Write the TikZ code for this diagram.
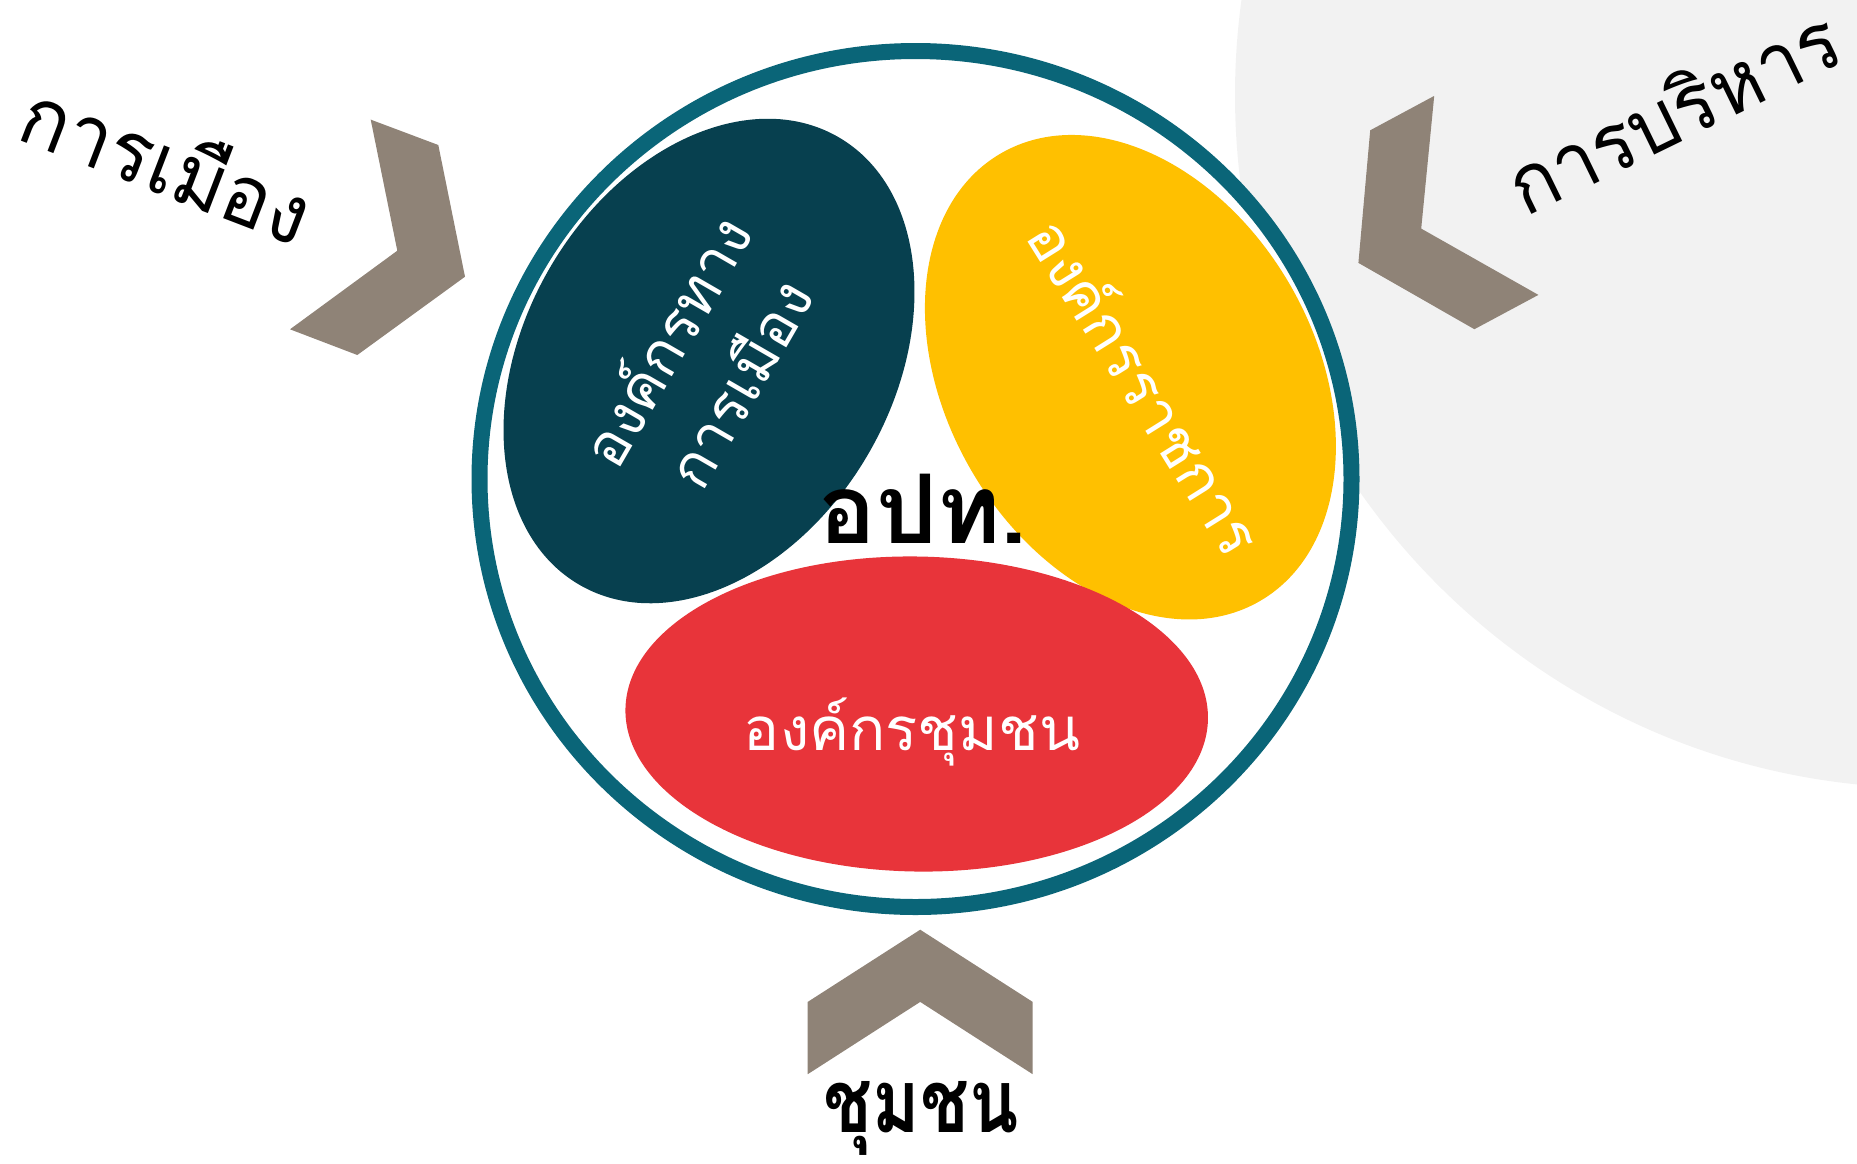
\documentclass[tikz,border=0pt]{standalone}
\usepackage{fontspec}
\newfontfamily\thai[Script=Thai]{Loma}
\newfontfamily\thaiA[Script=Thai,FakeStretch=0.95]{Loma}
\newfontfamily\thaiB[Script=Thai,FakeStretch=0.82]{Loma}
\definecolor{ringteal}{HTML}{0A6578}
\definecolor{darkteal}{HTML}{07404F}
\definecolor{goldy}{HTML}{FFC000}
\definecolor{redc}{HTML}{E8343A}
\definecolor{taupe}{HTML}{8F8377}
\definecolor{bggrey}{HTML}{F2F2F2}
\tikzset{
  chev/.style={fill=taupe},
  outerlbl/.style={font=\thaiA\fontsize{84}{100}\selectfont, text=black, inner sep=0pt},
  boldlbl/.style={font=\thaiB\bfseries\fontsize{88}{110}\selectfont, text=black, inner sep=0pt},
  centerlbl/.style={font=\thai\bfseries\fontsize{96}{110}\selectfont, text=black, inner sep=0pt},
  innerlbl/.style={font=\thai\fontsize{60}{84}\selectfont, text=white, inner sep=0pt, align=center},
}
\begin{document}
\begin{tikzpicture}[x=1pt,y=-1pt]
\useasboundingbox (0,0) rectangle (1857,1163);
% background grey disc
\fill[bggrey] (1928,95) circle [radius=693];
% main ring
\fill[white] (915.5,479) ellipse [x radius=436, y radius=428];
\draw[ringteal, line width=16pt] (915.5,479) ellipse [x radius=436, y radius=428];
% ellipses
\fill[darkteal, rotate around={60:(709,361)}] (709,361) ellipse [x radius=258.6, y radius=184.4];
\fill[goldy, rotate around={-60:(1130.4,377.2)}] (1130.4,377.2) ellipse [x radius=258.6, y radius=184.4];
\fill[redc, rotate around={-1:(916.7,714)}] (916.7,714) ellipse [x radius=291.3, y radius=157.5];
% chevrons
\fill[chev] (370.7,119.6) -- (438.3,145) -- (465,276.7) -- (357.3,355) -- (290,329.3) -- (397.3,250.7) -- cycle;
\fill[chev] (1434.2,95.9) -- (1421.2,228.6) -- (1538.4,294.9) -- (1474.4,329.2) -- (1358.4,262.9) -- (1370.2,130.3) -- cycle;
\fill[chev] (920.2,929.7) -- (1032.7,1001.9) -- (1032.7,1074.2) -- (920.2,1001.9) -- (807.7,1074.2) -- (807.7,1001.9) -- cycle;
% labels
\node[outerlbl, rotate=-21] (politics) at (168,160) {การเมือง};
\node[outerlbl, rotate=26, scale=0.97] (admin) at (1672,110) {การบริหาร};
\node[boldlbl, anchor=base] (community) at (921,1132) {ชุมชน};
\node[centerlbl, anchor=base] (lao) at (923,543) {อปท.};
\node[innerlbl, rotate=60] (polorg) at (700,361) {องค์กรทาง\\การเมือง};
\node[innerlbl, rotate=-58] (govorg) at (1148,385) {องค์กรราชการ};
\node[innerlbl, anchor=base] (comorg) at (912,750) {องค์กรชุมชน};
\end{tikzpicture}
\end{document}
